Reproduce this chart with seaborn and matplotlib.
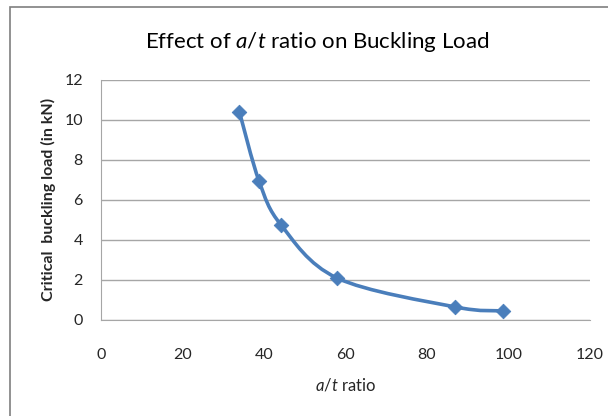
import seaborn as sns; import matplotlib.pyplot as plt
import numpy as np; import pandas as pd
from matplotlib.path import Path
from matplotlib.patches import PathPatch, Rectangle

# values
at_ratio = [34, 38.8, 44.2, 57.9, 86.9, 98.7]
buckling_load = [10.4, 6.95, 4.75, 2.1, 0.65, 0.45]

df = pd.DataFrame({'at_ratio': at_ratio, 'load': buckling_load})

sns.set_style('white')
plt.rcParams['font.family'] = ['Lato', 'DejaVu Sans']
plt.rcParams['mathtext.fontset'] = 'custom'
plt.rcParams['mathtext.it'] = 'Lato:italic'
plt.rcParams['mathtext.rm'] = 'Lato'

blue = '#4a7ebb'
fig = plt.figure(figsize=(6.08, 4.16), dpi=100)
ax = fig.add_axes([0.166, 0.231, 0.804, 0.577])

# Excel style smoothed line (Catmull-Rom as bezier segments)
pts = df[['at_ratio', 'load']].to_numpy()
verts = [pts[0]]; codes = [Path.MOVETO]
for i in range(len(pts) - 1):
    p0 = pts[max(i - 1, 0)]; p1 = pts[i]; p2 = pts[i + 1]; p3 = pts[min(i + 2, len(pts) - 1)]
    verts += [p1 + (p2 - p0) / 6, p2 - (p3 - p1) / 6, p2]
    codes += [Path.CURVE4] * 3
ax.add_patch(PathPatch(Path(verts, codes), fill=False, edgecolor=blue, lw=2.6, zorder=3))

sns.scatterplot(data=df, x='at_ratio', y='load', marker='D', s=55, color=blue,
                edgecolor=blue, ax=ax, zorder=4, legend=False)

ax.set_xlim(0, 120); ax.set_ylim(0, 12)
ax.set_xticks(range(0, 121, 20)); ax.set_yticks(range(0, 13, 2))
ax.yaxis.grid(True, color='#a6a6a6', lw=1)
ax.xaxis.grid(False)
for s in ['top', 'right']:
    ax.spines[s].set_visible(False)
for s in ['left', 'bottom']:
    ax.spines[s].set_color('#a6a6a6')
ax.tick_params(axis='both', length=0, labelsize=11.5, labelcolor='#262626')
ax.tick_params(axis='x', pad=20)
ax.tick_params(axis='y', pad=13)

ax.set_xlabel('$\\mathit{a/t}$ ratio', fontsize=12, labelpad=11)
ax.set_ylabel('Critical  buckling load (in kN)', fontsize=11.5, fontweight='bold', labelpad=6)
fig.text(0.522, 1 - 42 / 416, 'Effect of $\\mathit{a/t}$ ratio on Buckling Load', fontsize=16,
         ha='center', va='center', color='black')

fig.patches.append(Rectangle((10 / 608, -0.1), 1.2, 1.1 - 7 / 416, transform=fig.transFigure,
                             fill=False, edgecolor='#7f7f7f', lw=1.2))

plt.savefig('out.png', dpi=100)
